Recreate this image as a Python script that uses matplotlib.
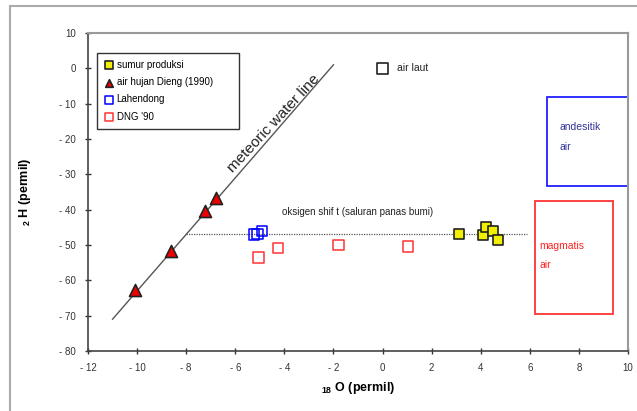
import numpy as np
import matplotlib.pyplot as plt
from matplotlib.patches import Rectangle

plt.rcParams['font.family'] = ['Liberation Sans', 'DejaVu Sans']
plt.rcParams['mathtext.default'] = 'regular'

# data (permil)
prod_x = [3.1, 4.1, 4.2, 4.5, 4.7]
prod_y = [-47.0, -47.3, -45.0, -46.0, -48.5]
rain_x = [-10.1, -8.6, -7.25, -6.8]
rain_y = [-62.7, -51.6, -40.5, -36.8]
lah_x = [-5.25, -5.1, -4.9]
lah_y = [-47.0, -46.8, -46.0]
dng_x = [-5.05, -4.25, -1.8, 1.05]
dng_y = [-53.5, -50.8, -50.0, -50.4]
sea_x = [0.0]
sea_y = [0.0]
mwl_x = np.array([-11.0, -2.0])
mwl_y = 8 * mwl_x + 17
shift_x = [-8.0, 5.9]
shift_y = [-47.0, -47.0]
# boxes: x0, y0, width, height
andesit = (6.7, -33.3, 3.3, 25.2)
magmat = (6.2, -69.5, 3.2, 32.0)

fig = plt.figure(figsize=(6.37, 4.11), dpi=100)
ax = fig.add_axes([88/637, 1-351/411, 540/637, 318/411])

# outer chart frame
fig.patches.append(Rectangle((10/637, -0.1), 1.2, 1-6/411+0.1, transform=fig.transFigure,
                             fill=False, edgecolor='#aaaaaa', linewidth=1.5))

ax.plot(mwl_x, mwl_y, color='#555555', linewidth=1)
ax.plot(shift_x, shift_y, color='#555555', linewidth=0.9, linestyle=(0, (1, 1)))

ax.scatter(prod_x, prod_y, marker='s', s=55, c='#f0f000', edgecolors='#222222', linewidths=1.2,
           label='sumur produksi', zorder=3)
ax.scatter(rain_x, rain_y, marker='^', s=75, c='#ee0000', edgecolors='#222222', linewidths=1.2,
           label='air hujan Dieng (1990)', zorder=3)
ax.scatter(lah_x, lah_y, marker='s', s=55, facecolors='none', edgecolors='#0000ff', linewidths=1.1,
           label='Lahendong', zorder=3)
ax.scatter(dng_x, dng_y, marker='s', s=55, facecolors='none', edgecolors='#ff3333', linewidths=1.1,
           label="DNG '90", zorder=3)
ax.scatter(sea_x, sea_y, marker='s', s=70, facecolors='none', edgecolors='#222222', linewidths=1.2,
           zorder=3)

ax.add_patch(Rectangle(andesit[:2], andesit[2], andesit[3], fill=False, edgecolor='#2020ff', linewidth=1.3))
ax.add_patch(Rectangle(magmat[:2], magmat[2], magmat[3], fill=False, edgecolor='#ff3333', linewidth=1.3))

ax.text(7.2, -16.5, 'andesitik', color='#333399', fontsize=7.5, va='center')
ax.text(7.2, -22.3, 'air', color='#333399', fontsize=7.5, va='center')
ax.text(6.4, -50.3, 'magmatis', color='#ff2222', fontsize=7.5, va='center')
ax.text(6.4, -55.7, 'air', color='#ff2222', fontsize=7.5, va='center')
ax.text(0.6, 0.0, 'air laut', color='#222222', fontsize=7.5, va='center')
ax.text(-1.0, -40.8, 'oksigen shif t (saluran panas bumi)', color='#222222', fontsize=7, ha='center', va='center')
ax.text(-4.45, -15.6, 'meteoric water line', color='#222222', fontsize=11, rotation=47,
        ha='center', va='center', rotation_mode='anchor')

ax.set_xlim(-12, 10)
ax.set_ylim(-80, 10)
ax.set_xticks(range(-12, 11, 2))
ax.set_yticks(range(-80, 11, 10))
fmt = lambda v: ('- %d' % -v) if v < 0 else '%d' % v
ax.set_xticklabels([fmt(v) for v in range(-12, 11, 2)])
ax.set_yticklabels([fmt(v) for v in range(-80, 11, 10)])
ax.tick_params(direction='inout', length=5, width=1, labelsize=7, colors='#333333', pad=6)
for s in ['left', 'bottom']:
    ax.spines[s].set_color('#444444')
    ax.spines[s].set_linewidth(1.2)
for s in ['top', 'right']:
    ax.spines[s].set_color('#999999')
    ax.spines[s].set_linewidth(1.5)

ax.set_xlabel(r'$_{18}$ O (permil)', fontsize=9, fontweight='bold', labelpad=5)
ax.set_ylabel(r'$_{2}$ H (permil)', fontsize=9, fontweight='bold', labelpad=19)

leg = ax.legend(loc='upper left', bbox_to_anchor=(0.017, 0.70, 0.263, 0.237), mode='expand',
                fontsize=7, fancybox=False, edgecolor='#333333', framealpha=1,
                handletextpad=0.3, borderpad=0.7, labelspacing=0.75, handlelength=1.0,
                scatterpoints=1, borderaxespad=0)
for h in leg.legend_handles:
    h.set_sizes([30])

fig.savefig('out.png', dpi=100)
